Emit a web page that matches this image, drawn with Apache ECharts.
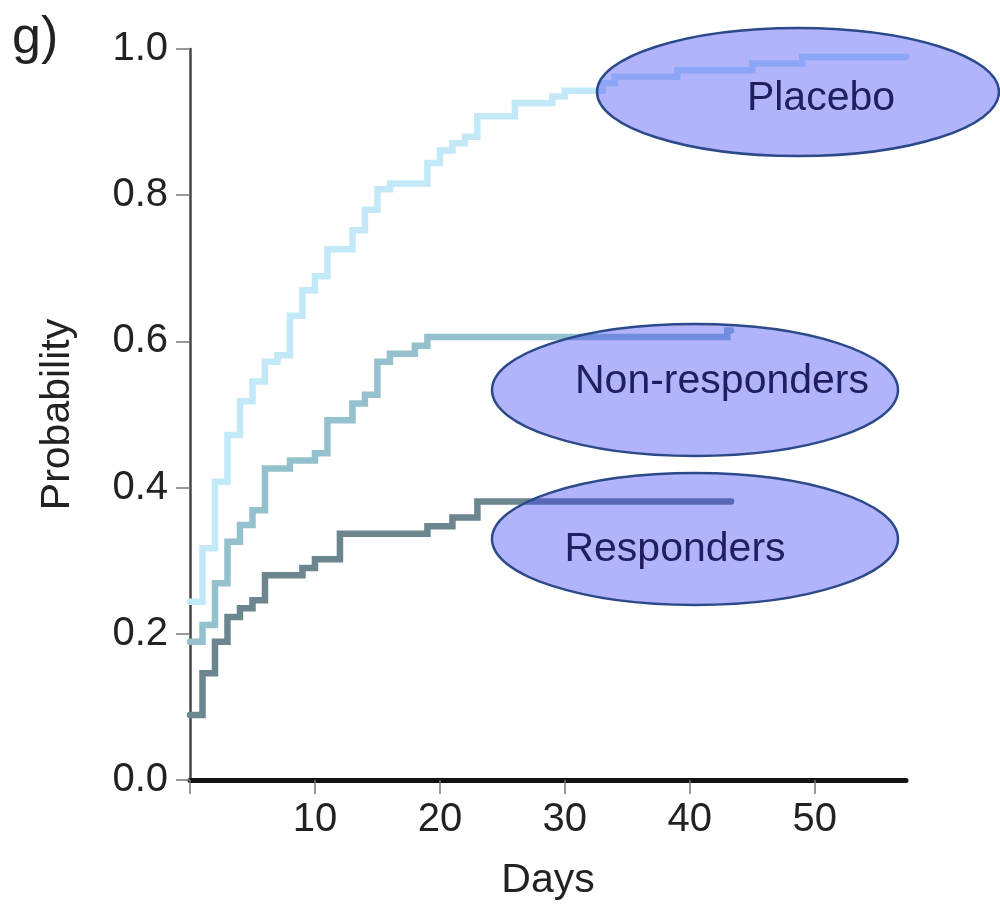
<!DOCTYPE html>
<html>
<head>
<meta charset="utf-8">
<script src="https://cdn.jsdelivr.net/npm/echarts@6/dist/echarts.min.js"></script>
<style>html,body{margin:0;padding:0;background:#fff;}#chart{width:1000px;height:907px;}</style>
</head>
<body>
<div id="chart"></div>
<script>
// ---- data ----
const xTicks = [10, 20, 30, 40, 50];
const yTicks = [0.0, 0.2, 0.4, 0.6, 0.8, 1.0];

const placeboDays = [0,1,2,3,4,5,6,7,8,9,10,11,13,14,15,16,19,20,21,22,23,26,29,30,33,34,39,45,49,57.3];
const placeboProb = [0.244,0.317,0.408,0.472,0.518,0.545,0.572,0.581,0.635,0.670,0.689,0.726,0.752,0.780,0.808,0.816,0.844,0.861,0.871,0.880,0.908,0.926,0.935,0.943,0.953,0.962,0.971,0.980,0.989,0.989];

const nonRespDays = [0,1,2,3,4,5,6,8,10,11,13,14,15,16,18,19,43,43.3];
const nonRespProb = [0.189,0.212,0.269,0.326,0.349,0.369,0.426,0.437,0.447,0.492,0.515,0.527,0.572,0.583,0.594,0.606,0.615,0.615];

const respDays = [0,1,2,3,4,5,6,9,10,12,19,21,23,43.3];
const respProb = [0.089,0.146,0.189,0.223,0.235,0.246,0.280,0.290,0.302,0.337,0.347,0.359,0.381,0.381];

const seriesNames = ['Placebo', 'Non-responders', 'Responders'];
const panelLabel = 'g)';
const xName = 'Days';
const yName = 'Probability';

// ---- build ----
const zip = (a, b) => a.map((v, i) => [v, b[i]]);
const FONT = '"Liberation Sans", Arial, Helvetica, sans-serif';

const chart = echarts.init(document.getElementById('chart'), null, {renderer: 'canvas'});

const lineSeries = (name, data, color) => ({
  name, type: 'line', step: 'end', data, symbol: 'none', z: 2,
  lineStyle: {color, width: 6.5, cap: 'round', join: 'miter'},
  emphasis: {disabled: true}, animation: false
});

const ellipseFill = 'rgba(60,65,245,0.40)';
const ellipseStroke = '#2c4a8a';
const labelColor = '#1f1f5f';

function annot(cx, cy, rx, ry, text, tx, ty) {
  return [
    {type: 'ellipse', shape: {cx, cy, rx, ry}, z: 50,
     style: {fill: ellipseFill, stroke: ellipseStroke, lineWidth: 2.5}},
    {type: 'text', x: tx, y: ty, z: 51,
     style: {text, font: '41px ' + FONT, fill: labelColor, align: 'center', verticalAlign: 'middle'}}
  ];
}

chart.setOption({
  animation: false,
  backgroundColor: '#fff',
  grid: {left: 190, top: 49, width: 716, height: 731, containLabel: false, outerBoundsMode: 'none'},
  xAxis: {
    type: 'value', min: 0, max: 57.3, interval: 10,
    name: xName, nameLocation: 'middle', nameGap: 80,
    nameTextStyle: {fontFamily: FONT, fontSize: 41, color: '#222'},
    axisLine: {show: true, onZero: false, lineStyle: {color: '#111', width: 5}},
    axisTick: {show: true, length: 14, lineStyle: {color: '#777', width: 1.5}},
    axisLabel: {
      fontFamily: FONT, fontSize: 40, color: '#222', margin: 20,
      showMaxLabel: false,
      formatter: v => (xTicks.indexOf(v) >= 0 ? String(v) : '')
    },
    splitLine: {show: false}
  },
  yAxis: {
    type: 'value', min: 0, max: 1, interval: 0.2,
    name: yName, nameLocation: 'middle', nameGap: 112, nameRotate: 90,
    nameTextStyle: {fontFamily: FONT, fontSize: 41, color: '#222'},
    axisLine: {show: true, onZero: false, lineStyle: {color: '#444', width: 2.5}},
    axisTick: {show: true, length: 14, lineStyle: {color: '#777', width: 1.5}},
    axisLabel: {
      fontFamily: FONT, fontSize: 40, color: '#222', margin: 22,
      formatter: v => yTicks.find(t => Math.abs(t - v) < 1e-9).toFixed(1)
    },
    splitLine: {show: false}
  },
  series: [
    lineSeries(seriesNames[0], zip(placeboDays, placeboProb), '#c3e8f8'),
    lineSeries(seriesNames[1], zip(nonRespDays, nonRespProb), '#95c0cd'),
    lineSeries(seriesNames[2], zip(respDays, respProb), '#6b868e')
  ],
  graphic: [
    {type: 'text', x: 12, y: 13, z: 60,
     style: {text: panelLabel, font: '52px ' + FONT, fill: '#222', align: 'left', verticalAlign: 'top'}},
    ...annot(798, 92, 201, 64, seriesNames[0], 821, 99),
    ...annot(695, 390, 203, 66, seriesNames[1], 722, 382),
    ...annot(695, 539, 203, 66, seriesNames[2], 675, 550)
  ]
});
</script>
</body>
</html>
